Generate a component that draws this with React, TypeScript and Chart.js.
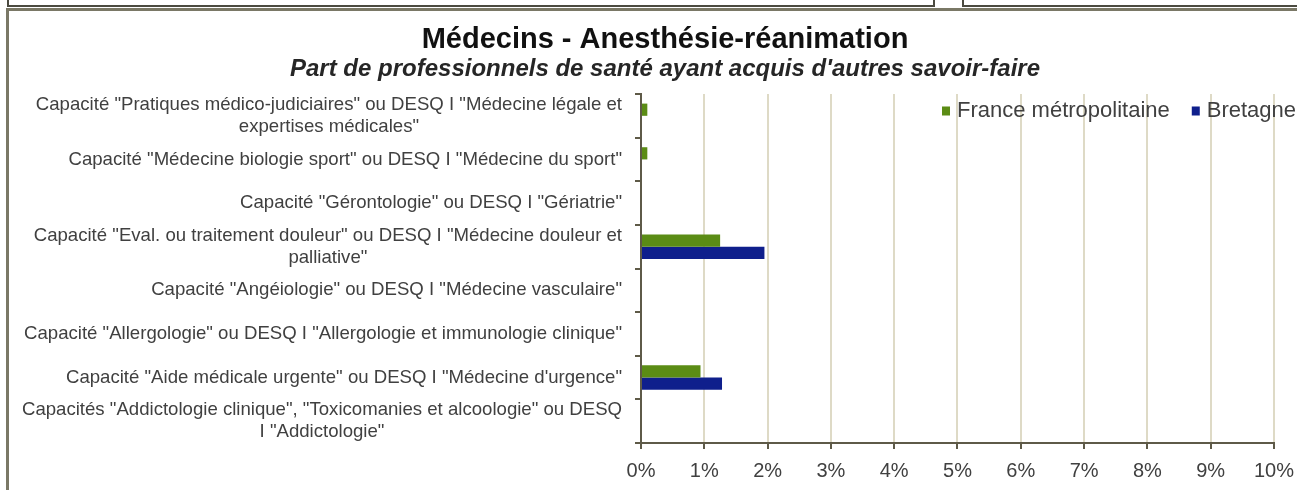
import React, { useEffect, useRef } from "react";
import { Chart, registerables } from "chart.js";

Chart.register(...registerables);

const categories: string[][] = [
  ['Capacité "Pratiques médico-judiciaires" ou DESQ I "Médecine légale et', 'expertises médicales"'],
  ['Capacité "Médecine biologie sport" ou DESQ I "Médecine du sport"'],
  ['Capacité "Gérontologie" ou DESQ I "Gériatrie"'],
  ['Capacité "Eval. ou traitement douleur" ou DESQ I "Médecine douleur et', 'palliative"'],
  ['Capacité "Angéiologie" ou DESQ I "Médecine vasculaire"'],
  ['Capacité "Allergologie" ou DESQ I "Allergologie et immunologie clinique"'],
  ['Capacité "Aide médicale urgente" ou DESQ I "Médecine d\'urgence"'],
  ['Capacités "Addictologie clinique", "Toxicomanies et alcoologie" ou DESQ', 'I "Addictologie"'],
];

const franceValues: number[] = [0.1, 0.1, 0, 1.25, 0, 0, 0.94, 0];
const bretagneValues: number[] = [0, 0, 0, 1.95, 0, 0, 1.28, 0];

const seriesNames: string[] = ["France métropolitaine", "Bretagne"];
const seriesColors: string[] = ["#5b8c15", "#0f1f8c"];

const xMin = 0;
const xMax = 10;
const xStep = 1;

const titleText = "Médecins - Anesthésie-réanimation";
const subtitleText = "Part de professionnels de santé ayant acquis d'autres savoir-faire";

const FONT = '"Liberation Sans", Arial, sans-serif';
const AXIS_COLOR = "#5e5a48";
const GRID_COLOR = "#dedac6";
const TEXT_COLOR = "#404040";

const yLabelPlugin = {
  id: "yLabelsCentered",
  afterDraw(chart: any) {
    const ctx = chart.ctx;
    const y = chart.scales.y;
    ctx.save();
    ctx.font = `18.6px ${FONT}`;
    ctx.fillStyle = TEXT_COLOR;
    ctx.textAlign = "center";
    ctx.textBaseline = "middle";
    const right = y.right - 19;
    const lh = 22;
    (chart.data.labels as any[]).forEach((lab, i) => {
      const lines: string[] = Array.isArray(lab) ? lab : [lab];
      const w = Math.max(...lines.map((l) => ctx.measureText(l).width));
      const cx = right - w / 2;
      const cy = y.getPixelForValue(i);
      lines.forEach((l, k) => {
        ctx.fillText(l, cx, cy + (k - (lines.length - 1) / 2) * lh);
      });
    });
    ctx.restore();
  },
};

const legendPlugin = {
  id: "legendInArea",
  afterDatasetsDraw(chart: any) {
    const ctx = chart.ctx;
    const area = chart.chartArea;
    ctx.save();
    ctx.font = `22px ${FONT}`;
    ctx.textBaseline = "middle";
    ctx.textAlign = "left";
    let x = area.left + 301;
    const cy = area.top + 17;
    chart.data.datasets.forEach((ds: any) => {
      ctx.fillStyle = ds.backgroundColor;
      ctx.fillRect(x, cy - 4.5, 8, 9);
      ctx.fillStyle = TEXT_COLOR;
      ctx.fillText(ds.label, x + 15, cy);
      x += 15 + ctx.measureText(ds.label).width + 22;
    });
    ctx.restore();
  },
};

export default function App() {
  const ref = useRef<HTMLCanvasElement | null>(null);

  useEffect(() => {
    if (!ref.current) return;
    const chart = new Chart(ref.current, {
      type: "bar",
      data: {
        labels: categories,
        datasets: [
          { label: seriesNames[0], data: franceValues, backgroundColor: seriesColors[0], borderWidth: 0 },
          { label: seriesNames[1], data: bretagneValues, backgroundColor: seriesColors[1], borderWidth: 0 },
        ],
      },
      options: {
        indexAxis: "y",
        animation: false,
        responsive: true,
        maintainAspectRatio: false,
        layout: { padding: { left: 56, right: 23, top: 0, bottom: 3 } },
        datasets: { bar: { categoryPercentage: 0.56, barPercentage: 1 } },
        plugins: {
          legend: { display: false },
          tooltip: { enabled: false },
          title: {
            display: true,
            text: titleText,
            color: "#111111",
            font: { family: FONT, size: 29, weight: "bold", lineHeight: 1 },
            padding: { top: 25, bottom: 0 },
          },
          subtitle: {
            display: true,
            text: subtitleText,
            color: "#262626",
            font: { family: FONT, size: 24, style: "italic", weight: "bold", lineHeight: 1 },
            padding: { top: 3, bottom: 13 },
          },
        },
        scales: {
          x: {
            type: "linear",
            min: xMin,
            max: xMax,
            ticks: {
              stepSize: xStep,
              color: TEXT_COLOR,
              font: { family: FONT, size: 20, lineHeight: "38px" },
              padding: 3,
              callback: (v: any) => `${v}%`,
            },
            grid: { color: GRID_COLOR, lineWidth: 2, tickColor: AXIS_COLOR, tickLength: 6 },
            border: { color: AXIS_COLOR, width: 2 },
          },
          y: {
            type: "category",
            ticks: { display: false },
            grid: { drawOnChartArea: false, color: AXIS_COLOR, lineWidth: 2, tickLength: 6 },
            border: { color: AXIS_COLOR, width: 2 },
            afterFit: (scale: any) => {
              scale.width = 585;
            },
          },
        },
      },
      plugins: [yLabelPlugin, legendPlugin],
    } as any);
    return () => chart.destroy();
  }, []);

  return (
    <div style={{ position: "absolute", left: 0, top: 0, width: 1297, height: 490, overflow: "hidden", background: "#fff" }}>
      <div style={{ position: "absolute", left: 7, top: -20, width: 924, height: 23, border: "2px solid #4b4a40" }} />
      <div style={{ position: "absolute", left: 962, top: -20, width: 400, height: 23, border: "2px solid #4b4a40" }} />
      <div style={{ position: "absolute", left: 6, top: 8, width: 1400, height: 600, border: "3px solid #7a7866" }} />
      <div style={{ position: "absolute", left: 0, top: 0, width: 1297, height: 496 }}>
        <canvas ref={ref} />
      </div>
    </div>
  );
}
